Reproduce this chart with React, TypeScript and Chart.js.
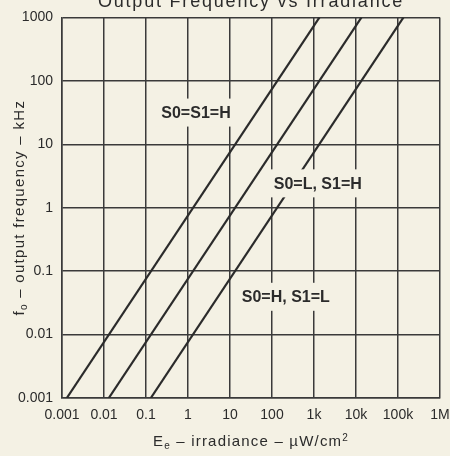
import { useEffect, useRef } from 'react';
import { Chart, registerables } from 'chart.js';

Chart.register(...registerables);

// ---- data ----
const TITLE = 'Output Frequency vs Irradiance';
const X_TICKS = [0.001, 0.01, 0.1, 1, 10, 100, 1000, 10000, 100000, 1000000];
const X_TICK_LABELS = ['0.001', '0.01', '0.1', '1', '10', '100', '1k', '10k', '100k', '1M'];
const Y_TICKS = [0.001, 0.01, 0.1, 1, 10, 100, 1000];
const Y_TICK_LABELS = ['0.001', '0.01', '0.1', '1', '10', '100', '1000'];

const SERIES_NAMES = ['S0=S1=H', 'S0=L, S1=H', 'S0=H, S1=L'];
const HH_IRRADIANCE = [0.0013, 1350];
const HH_FREQ = [0.001, 1000];
const LH_IRRADIANCE = [0.013, 13500];
const LH_FREQ = [0.001, 1000];
const HL_IRRADIANCE = [0.13, 135000];
const HL_FREQ = [0.001, 1000];

const LABEL_IRRADIANCE = [1.55, 1230, 213];
const LABEL_FREQ = [31.6, 2.42, 0.0394];

// ---- style ----
const BG = '#f4f1e4';
const INK = '#2b2b2b';
const FONT = '"Liberation Sans", Arial, Helvetica, sans-serif';

type Seg = { t: string; size: number; dy?: number };

function drawRich(ctx: CanvasRenderingContext2D, segs: Seg[], cx: number, baseY: number, ls: number) {
  (ctx as any).letterSpacing = ls + 'px';
  let total = 0;
  const widths = segs.map((s) => {
    ctx.font = `${s.size}px ${FONT}`;
    const w = ctx.measureText(s.t).width;
    total += w;
    return w;
  });
  let x = cx - total / 2;
  ctx.textAlign = 'left';
  ctx.textBaseline = 'alphabetic';
  segs.forEach((s, i) => {
    ctx.font = `${s.size}px ${FONT}`;
    ctx.fillText(s.t, x, baseY + (s.dy || 0));
    x += widths[i];
  });
  (ctx as any).letterSpacing = '0px';
}

const textPlugin = {
  id: 'texts',
  afterDraw(chart: any) {
    const { ctx, chartArea } = chart;
    const cx = (chartArea.left + chartArea.right) / 2;
    const cy = (chartArea.top + chartArea.bottom) / 2;
    ctx.save();
    ctx.fillStyle = INK;
    // clipped title
    drawRich(ctx, [{ t: TITLE, size: 18 }], cx, 7, 1.8);
    // x title
    drawRich(
      ctx,
      [
        { t: 'E', size: 15 },
        { t: 'e', size: 10, dy: 3 },
        { t: ' – irradiance – µW/cm', size: 15 },
        { t: '2', size: 10, dy: -5 },
      ],
      cx,
      446,
      1.2
    );
    // y title
    ctx.translate(19, cy);
    ctx.rotate(-Math.PI / 2);
    drawRich(
      ctx,
      [
        { t: 'f', size: 15 },
        { t: 'o', size: 10, dy: 3 },
        { t: ' – output frequency – kHz', size: 15 },
      ],
      0,
      5,
      1.3
    );
    ctx.restore();
  },
};

const labelPlugin = {
  id: 'curveLabels',
  afterDatasetsDraw(chart: any) {
    const { ctx } = chart;
    const xs = chart.scales.x;
    const ys = chart.scales.y;
    ctx.save();
    ctx.font = `bold 16px ${FONT}`;
    ctx.textAlign = 'center';
    ctx.textBaseline = 'middle';
    SERIES_NAMES.forEach((name, i) => {
      const px = xs.getPixelForValue(LABEL_IRRADIANCE[i]);
      const py = ys.getPixelForValue(LABEL_FREQ[i]);
      const w = ctx.measureText(name).width;
      ctx.fillStyle = BG;
      ctx.fillRect(px - w / 2 - 6, py - 14, w + 12, 28);
      ctx.fillStyle = INK;
      ctx.fillText(name, px, py + 1);
    });
    ctx.restore();
  },
};

function mk(xs: number[], ys: number[]) {
  return xs.map((x, i) => ({ x, y: ys[i] }));
}

export default function App() {
  const ref = useRef<HTMLCanvasElement | null>(null);

  useEffect(() => {
    if (!ref.current) return;
    const lineStyle = {
      borderColor: INK,
      borderWidth: 2.2,
      pointRadius: 0,
      fill: false,
      tension: 0,
    };
    const chart = new Chart(ref.current, {
      type: 'line',
      data: {
        datasets: [
          { label: SERIES_NAMES[0], data: mk(HH_IRRADIANCE, HH_FREQ), ...lineStyle },
          { label: SERIES_NAMES[1], data: mk(LH_IRRADIANCE, LH_FREQ), ...lineStyle },
          { label: SERIES_NAMES[2], data: mk(HL_IRRADIANCE, HL_FREQ), ...lineStyle },
        ],
      },
      options: {
        animation: false,
        responsive: false,
        devicePixelRatio: 1,
        layout: { padding: { top: 16, right: 0, left: 0, bottom: 0 } },
        plugins: {
          legend: { display: false },
          tooltip: { enabled: false },
          title: { display: false },
        },
        scales: {
          x: {
            type: 'logarithmic',
            min: 0.001,
            max: 1000000,
            afterBuildTicks: (s: any) => {
              s.ticks = X_TICKS.map((v) => ({ value: v }));
            },
            afterFit: (s: any) => {
              s.height = 58;
              s.paddingLeft = 0;
              s.paddingRight = 10;
            },
            grid: { color: '#3a3a3a', lineWidth: 1.5, drawTicks: false },
            border: { color: '#3a3a3a', width: 1.5 },
            ticks: {
              autoSkip: false,
              maxRotation: 0,
              padding: 9,
              color: INK,
              font: { family: FONT, size: 14 },
              callback: (v: any) => {
                const i = X_TICKS.indexOf(Number(v));
                return i >= 0 ? X_TICK_LABELS[i] : '';
              },
            },
          },
          y: {
            type: 'logarithmic',
            min: 0.001,
            max: 1000,
            afterBuildTicks: (s: any) => {
              s.ticks = Y_TICKS.map((v) => ({ value: v }));
            },
            afterFit: (s: any) => {
              s.width = 62;
            },
            grid: { color: '#3a3a3a', lineWidth: 1.5, drawTicks: false },
            border: { color: '#3a3a3a', width: 1.5 },
            ticks: {
              autoSkip: false,
              padding: 9,
              color: INK,
              font: { family: FONT, size: 14 },
              callback: (v: any) => {
                const i = Y_TICKS.indexOf(Number(v));
                return i >= 0 ? Y_TICK_LABELS[i] : '';
              },
            },
          },
        },
      },
      plugins: [labelPlugin, textPlugin],
    } as any);
    return () => chart.destroy();
  }, []);

  return (
    <div style={{ position: 'fixed', left: 0, top: 0, width: 450, height: 456, background: BG }}>
      <canvas ref={ref} width={450} height={456} style={{ display: 'block', width: 450, height: 456 }} />
    </div>
  );
}
